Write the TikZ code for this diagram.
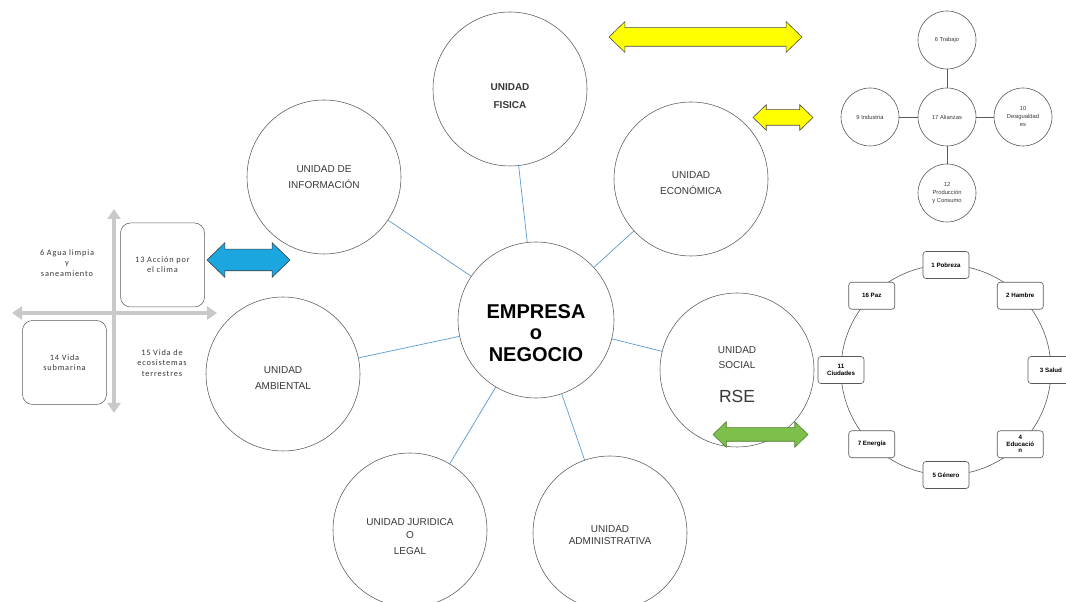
\documentclass[tikz,border=0pt]{standalone}
\usepackage{fontspec}
\setmainfont{Liberation Sans}
\newfontfamily\carlito[LetterSpace=10]{Carlito}
\usetikzlibrary{shapes.arrows,arrows.meta}
\definecolor{linkblue}{HTML}{5B9BD5}
\definecolor{rimgray}{HTML}{595959}
\definecolor{txtgray}{HTML}{383838}
\definecolor{axisgray}{HTML}{C9C9C9}
\definecolor{arrowyellow}{HTML}{FFFF00}
\definecolor{arrowblue}{HTML}{1BA6E0}
\definecolor{arrowgreen}{HTML}{7CBF4A}

\begin{document}
\begin{tikzpicture}[x=10pt,y=10pt,
    unidad/.style={circle, draw=rimgray, line width=0.55pt, fill=white, minimum size=154pt, inner sep=0pt, align=center, text=txtgray, font=\fontsize{10}{16}\selectfont},
    link/.style={draw=linkblue, line width=0.7pt},
    ods/.style={circle, draw=rimgray, line width=0.6pt, fill=white, minimum size=58pt, inner sep=0pt, align=center, text=txtgray, font=\fontsize{5.8}{8}\selectfont},
    odsbox/.style={draw=rimgray, rounded corners=3pt, line width=0.6pt, fill=white, minimum width=46pt, minimum height=27pt, inner sep=1pt, align=center, font=\bfseries\fontsize{6.2}{6.6}\selectfont},
    aguabox/.style={draw=rimgray, rounded corners=10pt, line width=0.5pt, minimum width=84pt, minimum height=84pt, align=center, text=txtgray, font=\carlito\fontsize{8.3}{10}\selectfont},
    aguatxt/.style={align=center, text=txtgray, font=\carlito\fontsize{8.3}{10.5}\selectfont},
    axis/.style={draw=axisgray, line width=4.5pt, {Triangle[width=13pt,length=10pt]}-{Triangle[width=13pt,length=10pt]}},
    bloque/.style={double arrow, line width=0.6pt, inner sep=0pt, double arrow tip angle=88}
]
    \clip (0,0) rectangle (106.6,60.2);
    \fill[white] (0,0) rectangle (106.6,60.2);

    % Central circle and the units around it
    \node[unidad, minimum size=156pt, text=black, font=\bfseries\fontsize{20}{21.5}\selectfont] (emp) at (53.6,28.2) {\\[18pt]EMPRESA\\o\\NEGOCIO};
    \node[unidad, font=\bfseries\fontsize{10}{18}\selectfont] (fis) at (51.0,51.3) {\\[3pt]UNIDAD\\FISICA};
    \node[unidad] (inf) at (32.4,42.5) {UNIDAD DE\\INFORMACIÓN};
    \node[unidad] (eco) at (69.1,42.3) {\\UNIDAD\\ECONÓMICA};
    \node[unidad] (amb) at (28.3,22.8) {\\UNIDAD\\AMBIENTAL};
    \node[unidad] (soc) at (73.7,23.2) {\\UNIDAD\\[-1pt]SOCIAL\\[18pt]{\fontsize{17.5}{18}\selectfont RSE}};
    \node[unidad] (jur) at (41.0,7.2) {\\[5pt]UNIDAD JURIDICA\\[-3pt]O\\LEGAL};
    \node[unidad, font=\fontsize{10}{12}\selectfont] (adm) at (61.0,6.9) {\\UNIDAD\\ADMINISTRATIVA};

    % Links from the centre
    \draw[link] (emp) -- (fis);
    \draw[link] (emp) -- (inf);
    \draw[link] (emp) -- (eco);
    \draw[link] (emp) -- (amb);
    \draw[link] (emp) -- (soc);
    \draw[link] (emp) -- (jur);
    \draw[link] (emp) -- (adm);

    % ODS cross, top right
    \node[ods] (ali) at (94.7,48.5) {17 Alianzas};
    \node[ods] (tra) at (94.7,56.2) {6 Trabajo};
    \node[ods] (ind) at (87.0,48.5) {9 Industria};
    \node[ods] (des) at (102.3,48.5) {10\\Desigualdad\\es};
    \node[ods] (pro) at (94.7,40.9) {12\\Producción\\y Consumo};
    \draw[rimgray, line width=0.8pt] (ali) -- (tra);
    \draw[rimgray, line width=0.8pt] (ali) -- (ind);
    \draw[rimgray, line width=0.8pt] (ali) -- (des);
    \draw[rimgray, line width=0.8pt] (ali) -- (pro);

    % ODS ring, bottom right
    \coordinate (ringc) at (94.6,23.2);
    \draw[rimgray, line width=0.6pt] (ringc) circle[radius=105pt];
    \node[odsbox] (o1) at ([shift={(90:105pt)}]ringc) {1 Pobreza};
    \node[odsbox] (o2) at ([shift={(45:105pt)}]ringc) {2 Hambre};
    \node[odsbox] (o3) at ([shift={(0:105pt)}]ringc) {3 Salud};
    \node[odsbox] (o4) at ([shift={(-45:105pt)}]ringc) {4\\Educació\\n};
    \node[odsbox] (o5) at ([shift={(-90:105pt)}]ringc) {5 Género};
    \node[odsbox] (o7) at ([shift={(-135:105pt)}]ringc) {7 Energía};
    \node[odsbox] (o11) at ([shift={(180:105pt)}]ringc) {11\\Ciudades};
    \node[odsbox] (o16) at ([shift={(135:105pt)}]ringc) {16 Paz};

    % Quadrant on the left
    \coordinate (qtop) at (11.4,39.3);
    \coordinate (qbot) at (11.4,18.9);
    \coordinate (qwest) at (1.2,28.9);
    \coordinate (qeast) at (21.7,28.9);
    \draw[axis] (qbot) -- (qtop);
    \draw[axis] (qwest) -- (qeast);
    \node[aguabox, fill=white] (clima) at (16.25,33.7) {13 Acción por\\el clima};
    \node[aguabox, fill=white] (mar) at (6.45,23.95) {14 Vida\\submarina};
    \node[aguatxt] (agua) at (6.7,33.9) {6 Agua limpia\\y\\saneamiento};
    \node[aguatxt] (tierra) at (16.2,23.9) {15 Vida de\\ecosistemas\\terrestres};

    % Block arrows
    \node[bloque, fill=arrowyellow, draw=black!70, minimum height=193pt, inner ysep=9pt, double arrow head extend=6pt] (yelA) at (70.55,56.5) {};
    \node[bloque, fill=arrowyellow, draw=black!70, minimum height=60pt, inner ysep=7.5pt, double arrow head extend=5pt] (yelB) at (78.3,48.45) {};
    \node[bloque, fill=arrowblue, draw=black!75, minimum height=83pt, inner ysep=10.5pt, double arrow head extend=6.5pt] (bluA) at (24.85,34.2) {};
    \node[bloque, fill=arrowgreen, draw=arrowgreen!65!black, minimum height=95pt, inner ysep=6.5pt, double arrow head extend=6pt] (grnA) at (76.05,16.75) {};
\end{tikzpicture}
\end{document}
